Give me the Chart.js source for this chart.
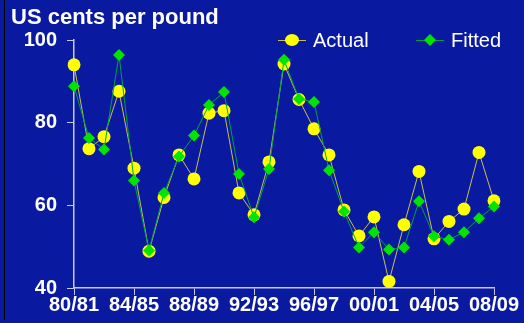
<!DOCTYPE html>
<html lang="en">
<head>
    <meta charset="UTF-8">
    <title>US cents per pound</title>
    <script src="https://cdn.jsdelivr.net/npm/chart.js@4.4.0/dist/chart.umd.min.js"></script>
    <style>
        html, body { margin: 0; padding: 0; background: #0a1aa0; }
        #wrap { width: 524px; height: 323px; }
    </style>
</head>
<body>
    <div id="wrap"><canvas id="chart"></canvas></div>
    <script>
        // seasons 80/81 .. 08/09
        const seasons = ["80/81","81/82","82/83","83/84","84/85","85/86","86/87","87/88","88/89","89/90",
                         "90/91","91/92","92/93","93/94","94/95","95/96","96/97","97/98","98/99","99/00",
                         "00/01","01/02","02/03","03/04","04/05","05/06","06/07","07/08","08/09"];
        const actual = [94.0, 73.7, 76.6, 87.6, 69.0, 48.9, 61.9, 72.2, 66.4, 82.3,
                        82.9, 63.0, 57.7, 70.5, 94.2, 85.6, 78.5, 72.2, 58.9, 52.6,
                        57.2, 41.6, 55.3, 68.2, 51.9, 56.1, 59.1, 72.8, 61.1];
        const fitted = [88.8, 76.3, 73.5, 96.4, 66.0, 49.1, 63.0, 71.8, 76.9, 84.3,
                        87.4, 67.6, 57.1, 68.8, 95.2, 85.7, 85.0, 68.5, 58.5, 49.8,
                        53.5, 49.3, 49.8, 61.0, 52.5, 51.7, 53.5, 56.9, 59.7];
        const yTicks = [40, 60, 80, 100];

        const bg = '#0a1aa0';
        const axisColor = '#c8c8e4';
        const yellow = '#ffff00';
        const green = '#00e400';
        const font = '"Liberation Sans", Arial, sans-serif';

        // background, title, left border line and the legend
        const decor = {
            id: 'decor',
            beforeDraw(chart) {
                const c = chart.ctx;
                c.save();
                c.fillStyle = bg;
                c.fillRect(0, 0, chart.width, chart.height);
                c.fillStyle = '#000';
                c.fillRect(4, 0, 1, 320);
                c.restore();
            },
            afterDraw(chart) {
                const c = chart.ctx;
                const a = chart.chartArea;
                c.save();
                c.fillStyle = '#fff';
                c.font = 'bold 22px ' + font;
                c.textBaseline = 'alphabetic';
                c.fillText('US cents per pound', 11, 24);

                const y = a.top;
                const items = [
                    {x: a.right - 216, label: 'Actual', line: '#c8c050', ds: 1},
                    {x: a.right - 78, label: 'Fitted', line: '#00a040', ds: 0}
                ];
                c.font = '20px ' + font;
                c.textBaseline = 'middle';
                items.forEach(it => {
                    c.strokeStyle = it.line;
                    c.lineWidth = 1;
                    c.beginPath();
                    c.moveTo(it.x, y + 0.5);
                    c.lineTo(it.x + 28, y + 0.5);
                    c.stroke();
                    const mx = it.x + 14;
                    c.fillStyle = it.ds === 1 ? yellow : green;
                    c.beginPath();
                    if (it.ds === 1) {
                        c.ellipse(mx, y, 7, 6, 0, 0, Math.PI * 2);
                    } else {
                        c.moveTo(mx, y - 6); c.lineTo(mx + 6, y); c.lineTo(mx, y + 6); c.lineTo(mx - 6, y);
                        c.closePath();
                    }
                    c.fill();
                    c.fillStyle = '#fff';
                    c.fillText(it.label, it.x + 35, y + 1);
                });
                c.restore();
            }
        };

        new Chart(document.getElementById('chart'), {
            type: 'line',
            data: {
                labels: seasons,
                datasets: [{
                    label: 'Fitted',
                    data: fitted,
                    order: 1,
                    borderColor: '#00a040',
                    borderWidth: 1,
                    pointStyle: 'rectRot',
                    pointRadius: 6,
                    pointBackgroundColor: green,
                    pointBorderColor: green,
                    pointBorderWidth: 0,
                    tension: 0
                }, {
                    label: 'Actual',
                    data: actual,
                    order: 2,
                    borderColor: '#c8c050',
                    borderWidth: 1,
                    pointStyle: 'circle',
                    pointRadius: 6.5,
                    pointBackgroundColor: yellow,
                    pointBorderColor: yellow,
                    pointBorderWidth: 0,
                    tension: 0
                }]
            },
            options: {
                responsive: true,
                maintainAspectRatio: false,
                animation: false,
                layout: { padding: { left: 0, right: 30, top: 40, bottom: 0 } },
                plugins: {
                    legend: { display: false },
                    tooltip: { enabled: false }
                },
                scales: {
                    x: {
                        offset: false,
                        grid: { drawOnChartArea: false, drawTicks: true, tickLength: 7, color: axisColor },
                        border: { color: axisColor, width: 1.5 },
                        ticks: {
                            autoSkip: false,
                            maxRotation: 0,
                            color: '#fff',
                            padding: -2,
                            font: { family: font, size: 20, weight: 'bold' },
                            callback: (v, i) => i % 4 === 0 ? seasons[i] : null
                        },
                        afterFit: s => { s.height = 35; }
                    },
                    y: {
                        min: 40,
                        max: 100,
                        afterBuildTicks: s => { s.ticks = yTicks.map(v => ({ value: v })); },
                        grid: { drawOnChartArea: false, drawTicks: true, tickLength: 7, color: axisColor },
                        border: { color: axisColor, width: 1.5 },
                        ticks: {
                            color: '#fff',
                            padding: 10,
                            font: { family: font, size: 20, weight: 'bold' }
                        },
                        afterFit: s => { s.width = 74; }
                    }
                }
            },
            plugins: [decor]
        });
    </script>
</body>
</html>
